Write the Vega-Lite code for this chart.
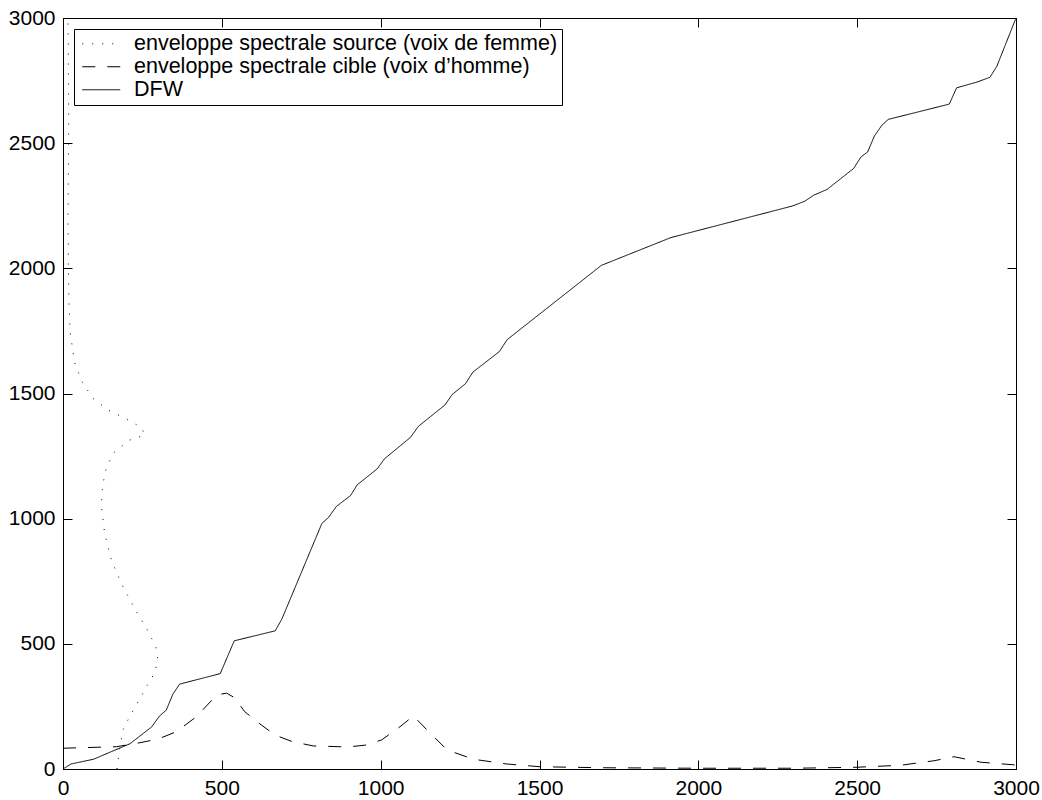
{
  "$schema": "https://vega.github.io/schema/vega-lite/v6.json",
  "autosize": {"type": "none"},
  "padding": {"left": 63, "top": 18, "right": 26, "bottom": 31},
  "width": 953,
  "height": 751,
  "background": "white",
  "config": {
    "font": "Liberation Sans",
    "view": {"stroke": "black", "strokeWidth": 1},
    "axis": {
      "grid": false,
      "domainColor": "black",
      "tickColor": "black",
      "labelColor": "black",
      "labelFontSize": 21,
      "labelFont": "Liberation Sans",
      "tickSize": -9,
      "title": null,
      "domainWidth": 1,
      "tickWidth": 1,
      "labelFlush": false,
      "labelOverlap": false,
      "format": "d"
    }
  },
  "datasets": {
    "courbes": [
      {"serie": "source", "i": 0, "x": 170, "y": 0},
      {"serie": "source", "i": 1, "x": 178, "y": 80},
      {"serie": "source", "i": 2, "x": 189, "y": 156},
      {"serie": "source", "i": 3, "x": 210, "y": 210},
      {"serie": "source", "i": 4, "x": 231, "y": 256},
      {"serie": "source", "i": 5, "x": 263, "y": 329},
      {"serie": "source", "i": 6, "x": 289, "y": 385},
      {"serie": "source", "i": 7, "x": 299, "y": 435},
      {"serie": "source", "i": 8, "x": 292, "y": 489},
      {"serie": "source", "i": 9, "x": 263, "y": 562},
      {"serie": "source", "i": 10, "x": 231, "y": 628},
      {"serie": "source", "i": 11, "x": 189, "y": 728},
      {"serie": "source", "i": 12, "x": 152, "y": 835},
      {"serie": "source", "i": 13, "x": 131, "y": 942},
      {"serie": "source", "i": 14, "x": 121, "y": 1048},
      {"serie": "source", "i": 15, "x": 124, "y": 1128},
      {"serie": "source", "i": 16, "x": 137, "y": 1208},
      {"serie": "source", "i": 17, "x": 163, "y": 1268},
      {"serie": "source", "i": 18, "x": 210, "y": 1314},
      {"serie": "source", "i": 19, "x": 258, "y": 1334},
      {"serie": "source", "i": 20, "x": 247, "y": 1364},
      {"serie": "source", "i": 21, "x": 195, "y": 1401},
      {"serie": "source", "i": 22, "x": 142, "y": 1434},
      {"serie": "source", "i": 23, "x": 94, "y": 1481},
      {"serie": "source", "i": 24, "x": 60, "y": 1547},
      {"serie": "source", "i": 25, "x": 37, "y": 1621},
      {"serie": "source", "i": 26, "x": 23, "y": 1741},
      {"serie": "source", "i": 27, "x": 19, "y": 1847},
      {"serie": "source", "i": 28, "x": 17, "y": 2000},
      {"serie": "source", "i": 29, "x": 16, "y": 2200},
      {"serie": "source", "i": 30, "x": 17, "y": 2400},
      {"serie": "source", "i": 31, "x": 18, "y": 2600},
      {"serie": "source", "i": 32, "x": 17, "y": 2800},
      {"serie": "source", "i": 33, "x": 16, "y": 3000},

      {"serie": "cible", "i": 0, "x": 0, "y": 83},
      {"serie": "cible", "i": 1, "x": 168, "y": 89},
      {"serie": "cible", "i": 2, "x": 242, "y": 105},
      {"serie": "cible", "i": 3, "x": 300, "y": 120},
      {"serie": "cible", "i": 4, "x": 357, "y": 149},
      {"serie": "cible", "i": 5, "x": 420, "y": 209},
      {"serie": "cible", "i": 6, "x": 484, "y": 296},
      {"serie": "cible", "i": 7, "x": 515, "y": 303},
      {"serie": "cible", "i": 8, "x": 540, "y": 285},
      {"serie": "cible", "i": 9, "x": 572, "y": 229},
      {"serie": "cible", "i": 10, "x": 620, "y": 180},
      {"serie": "cible", "i": 11, "x": 667, "y": 136},
      {"serie": "cible", "i": 12, "x": 720, "y": 110},
      {"serie": "cible", "i": 13, "x": 788, "y": 92},
      {"serie": "cible", "i": 14, "x": 872, "y": 89},
      {"serie": "cible", "i": 15, "x": 904, "y": 89},
      {"serie": "cible", "i": 16, "x": 950, "y": 95},
      {"serie": "cible", "i": 17, "x": 1003, "y": 116},
      {"serie": "cible", "i": 18, "x": 1061, "y": 169},
      {"serie": "cible", "i": 19, "x": 1103, "y": 212},
      {"serie": "cible", "i": 20, "x": 1146, "y": 156},
      {"serie": "cible", "i": 21, "x": 1209, "y": 76},
      {"serie": "cible", "i": 22, "x": 1292, "y": 39},
      {"serie": "cible", "i": 23, "x": 1397, "y": 20},
      {"serie": "cible", "i": 24, "x": 1502, "y": 9},
      {"serie": "cible", "i": 25, "x": 1700, "y": 5},
      {"serie": "cible", "i": 26, "x": 2000, "y": 3},
      {"serie": "cible", "i": 27, "x": 2300, "y": 3},
      {"serie": "cible", "i": 28, "x": 2500, "y": 7},
      {"serie": "cible", "i": 29, "x": 2637, "y": 15},
      {"serie": "cible", "i": 30, "x": 2742, "y": 33},
      {"serie": "cible", "i": 31, "x": 2805, "y": 49},
      {"serie": "cible", "i": 32, "x": 2890, "y": 27},
      {"serie": "cible", "i": 33, "x": 3000, "y": 16},

      {"serie": "DFW", "i": 0, "x": 0, "y": 0},
      {"serie": "DFW", "i": 1, "x": 25, "y": 20},
      {"serie": "DFW", "i": 2, "x": 96, "y": 39},
      {"serie": "DFW", "i": 3, "x": 211, "y": 101},
      {"serie": "DFW", "i": 4, "x": 279, "y": 168},
      {"serie": "DFW", "i": 5, "x": 304, "y": 212},
      {"serie": "DFW", "i": 6, "x": 325, "y": 235},
      {"serie": "DFW", "i": 7, "x": 346, "y": 299},
      {"serie": "DFW", "i": 8, "x": 367, "y": 339},
      {"serie": "DFW", "i": 9, "x": 495, "y": 381},
      {"serie": "DFW", "i": 10, "x": 539, "y": 512},
      {"serie": "DFW", "i": 11, "x": 668, "y": 552},
      {"serie": "DFW", "i": 12, "x": 689, "y": 599},
      {"serie": "DFW", "i": 13, "x": 815, "y": 981},
      {"serie": "DFW", "i": 14, "x": 836, "y": 1005},
      {"serie": "DFW", "i": 15, "x": 860, "y": 1048},
      {"serie": "DFW", "i": 16, "x": 873, "y": 1061},
      {"serie": "DFW", "i": 17, "x": 905, "y": 1092},
      {"serie": "DFW", "i": 18, "x": 926, "y": 1135},
      {"serie": "DFW", "i": 19, "x": 989, "y": 1199},
      {"serie": "DFW", "i": 20, "x": 1012, "y": 1239},
      {"serie": "DFW", "i": 21, "x": 1094, "y": 1325},
      {"serie": "DFW", "i": 22, "x": 1119, "y": 1369},
      {"serie": "DFW", "i": 23, "x": 1203, "y": 1455},
      {"serie": "DFW", "i": 24, "x": 1225, "y": 1496},
      {"serie": "DFW", "i": 25, "x": 1267, "y": 1539},
      {"serie": "DFW", "i": 26, "x": 1290, "y": 1585},
      {"serie": "DFW", "i": 27, "x": 1374, "y": 1668},
      {"serie": "DFW", "i": 28, "x": 1398, "y": 1715},
      {"serie": "DFW", "i": 29, "x": 1695, "y": 2012},
      {"serie": "DFW", "i": 30, "x": 1914, "y": 2123},
      {"serie": "DFW", "i": 31, "x": 2296, "y": 2249},
      {"serie": "DFW", "i": 32, "x": 2335, "y": 2268},
      {"serie": "DFW", "i": 33, "x": 2363, "y": 2292},
      {"serie": "DFW", "i": 34, "x": 2405, "y": 2315},
      {"serie": "DFW", "i": 35, "x": 2489, "y": 2399},
      {"serie": "DFW", "i": 36, "x": 2512, "y": 2445},
      {"serie": "DFW", "i": 37, "x": 2533, "y": 2465},
      {"serie": "DFW", "i": 38, "x": 2554, "y": 2528},
      {"serie": "DFW", "i": 39, "x": 2578, "y": 2572},
      {"serie": "DFW", "i": 40, "x": 2598, "y": 2595},
      {"serie": "DFW", "i": 41, "x": 2790, "y": 2656},
      {"serie": "DFW", "i": 42, "x": 2813, "y": 2721},
      {"serie": "DFW", "i": 43, "x": 2877, "y": 2744},
      {"serie": "DFW", "i": 44, "x": 2918, "y": 2763},
      {"serie": "DFW", "i": 45, "x": 2940, "y": 2808},
      {"serie": "DFW", "i": 46, "x": 3000, "y": 3000}
    ]
  },
  "layer": [
    {
      "data": {"name": "courbes"},
      "mark": {"type": "line", "color": "black", "strokeWidth": 1, "clip": true},
      "encoding": {
        "x": {
          "field": "x", "type": "quantitative",
          "scale": {"domain": [0, 3000], "nice": false, "zero": false},
          "axis": {"orient": "bottom", "values": [0, 500, 1000, 1500, 2000, 2500, 3000], "labelPadding": 17}
        },
        "y": {
          "field": "y", "type": "quantitative",
          "scale": {"domain": [0, 3000], "nice": false, "zero": false},
          "axis": {"orient": "left", "values": [0, 500, 1000, 1500, 2000, 2500, 3000], "labelPadding": 17}
        },
        "strokeDash": {
          "field": "serie", "type": "nominal",
          "scale": {"domain": ["source", "cible", "DFW"], "range": [[1, 9], [13, 12], [1, 0]]},
          "legend": {
            "orient": "none",
            "legendX": 11,
            "legendY": 11,
            "title": null,
            "strokeColor": "black",
            "fillColor": "white",
            "padding": 4,
            "symbolOffset": 12.5,
            "symbolType": "M-2,0H2",
            "symbolSize": 361,
            "symbolStrokeWidth": 1,
            "symbolStrokeColor": "black",
            "labelFontSize": 21.5,
            "labelFont": "Liberation Sans",
            "labelColor": "black",
            "labelOffset": 22,
            "rowPadding": 0,
            "labelLimit": 700,
            "labelExpr": "datum.value == 'source' ? 'enveloppe spectrale source (voix de femme)' : datum.value == 'cible' ? 'enveloppe spectrale cible (voix d’homme)' : 'DFW'"
          }
        },
        "order": {"field": "i", "type": "quantitative"}
      }
    },
    {
      "data": {"name": "courbes"},
      "mark": {"type": "line", "opacity": 0},
      "encoding": {
        "x": {
          "field": "x", "type": "quantitative",
          "scale": {"domain": [0, 3000], "nice": false, "zero": false},
          "axis": {"orient": "top", "values": [0, 500, 1000, 1500, 2000, 2500, 3000], "labels": false}
        },
        "y": {
          "field": "y", "type": "quantitative",
          "scale": {"domain": [0, 3000], "nice": false, "zero": false},
          "axis": {"orient": "right", "values": [0, 500, 1000, 1500, 2000, 2500, 3000], "labels": false}
        }
      }
    }
  ],
  "resolve": {"scale": {"x": "independent", "y": "independent"}}
}
